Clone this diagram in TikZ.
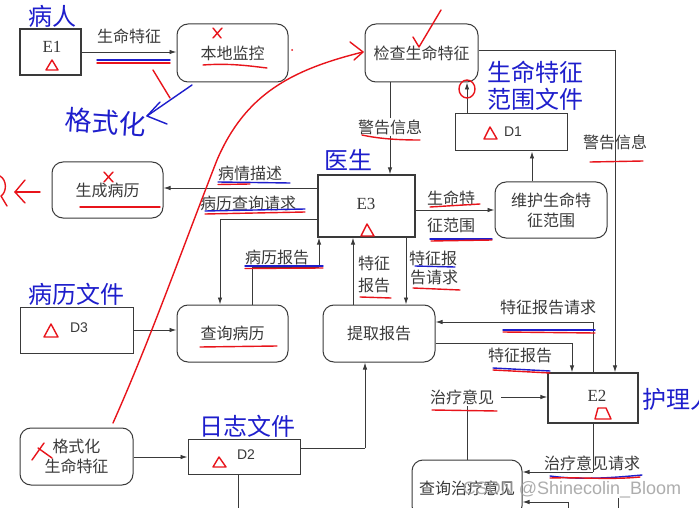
\documentclass[tikz,border=0pt]{standalone}
\usepackage{fontspec}
\setmainfont{Liberation Serif}
\newfontfamily\cjk{Noto Sans CJK SC}
\newfontfamily\sansf{Liberation Sans}
\usetikzlibrary{arrows.meta}
\definecolor{ink}{HTML}{3A3A3A}
\definecolor{hred}{HTML}{E8141B}
\definecolor{hblue}{HTML}{1E1ECC}
\tikzset{
  proc/.style={draw=ink, line width=1pt, rounded corners=11pt, inner sep=0pt,
    font=\cjk\fontsize{16}{20}\selectfont, text=ink, align=center},
  ent/.style={draw=ink, line width=1.3pt, inner sep=0pt},
  store/.style={draw=ink, line width=1pt, inner sep=0pt},
  etxt/.style={font=\fontsize{17}{17}\selectfont, text=ink, inner sep=0pt},
  dtxt/.style={font=\sansf\fontsize{14}{14}\selectfont, text=ink, inner sep=0pt},
  lbl/.style={font=\cjk\fontsize{16}{19}\selectfont, text=ink, inner sep=1pt},
  flow/.style={draw=ink, line width=0.9pt, -{Latex[length=7pt,width=4.5pt]}},
  wire/.style={draw=ink, line width=0.9pt},
  blab/.style={font=\cjk\fontsize{24}{27}\selectfont, text=hblue, inner sep=0pt, align=left},
  redl/.style={draw=hred, line width=1.4pt, line cap=round, line join=round},
  bluel/.style={draw=hblue, line width=1.4pt, line cap=round, line join=round},
  rtri/.style={draw=hred, line width=1.4pt, line join=round},
}
\begin{document}
\begin{tikzpicture}[x=1pt,y=-1pt]
\useasboundingbox (0,0) rectangle (699,508);
\fill[white] (0,0) rectangle (699,508);

% ---------- nodes ----------
\node[ent, minimum width=61pt, minimum height=46pt] (e1) at (50.5,52) {};
\node[etxt] (e1t) at (52,47) {E1};
\node[proc, minimum width=111pt, minimum height=58pt] (bd) at (232.5,53) {本地监控};
\node[proc, minimum width=113pt, minimum height=58pt] (jc) at (421.5,53) {检查生命特征};
\node[store, minimum width=112pt, minimum height=37pt] (d1) at (511,132.5) {};
\node[dtxt] (d1t) at (513,132) {D1};
\node[proc, minimum width=111pt, minimum height=56pt] (sc) at (107.5,190) {生成病历};
\node[ent, minimum width=97pt, minimum height=62pt] (e3) at (366.5,206) {};
\node[etxt] (e3t) at (366,204) {E3};
\node[proc, minimum width=112pt, minimum height=56pt] (wh) at (551,210) {维护生命特\\征范围};
\node[store, minimum width=113pt, minimum height=46pt] (d3) at (76.5,330) {};
\node[dtxt] (d3t) at (79,328) {D3};
\node[proc, minimum width=111pt, minimum height=57pt] (cx) at (232.5,333.5) {查询病历};
\node[proc, minimum width=112pt, minimum height=57pt] (tq) at (379,333.5) {提取报告};
\node[ent, minimum width=90pt, minimum height=50pt] (e2) at (593,398) {};
\node[etxt] (e2t) at (597,396) {E2};
\node[proc, minimum width=113pt, minimum height=57pt] (gs) at (76.5,456.5) {格式化\\生命特征};
\node[store, minimum width=112pt, minimum height=35pt] (d2) at (244,456.5) {};
\node[dtxt] (d2t) at (246,455) {D2};
\node[proc, minimum width=110pt, minimum height=57pt] (cz) at (467,488.5) {查询治疗意见};

% ---------- flow labels ----------
\node[lbl] (l1) at (129,36) {生命特征};
\node[lbl, fill=white] (l2) at (390,127) {警告信息};
\node[lbl] (l3) at (615,142) {警告信息};
\node[lbl] (l4) at (250,173) {病情描述};
\node[lbl] (l5) at (248,203) {病历查询请求};
\node[lbl] (l6) at (277,257) {病历报告};
\node[lbl] (l7a) at (451,198) {生命特};
\node[lbl] (l7b) at (451,225) {征范围};
\node[lbl] (l8a) at (374,263) {特征};
\node[lbl] (l8b) at (374,285) {报告};
\node[lbl] (l9a) at (433,258) {特征报};
\node[lbl] (l9b) at (434,277) {告请求};
\node[lbl] (l10) at (548,307) {特征报告请求};
\node[lbl] (l11) at (520,355) {特征报告};
\node[lbl] (zl) at (462,397) {治疗意见};
\node[lbl] (l12) at (592,463) {治疗意见请求};

% ---------- bend coordinates ----------
\coordinate (w1) at (615,50);
\coordinate (w2) at (220,219);
\coordinate (w3) at (252,267);
\coordinate (w4) at (319,267);
\coordinate (w5) at (593,322);
\coordinate (w6) at (572,343);
\coordinate (w7) at (593,472);
\coordinate (w8) at (365,448);
\coordinate (b1) at (568,502);
\coordinate (b1e) at (568,512);
\coordinate (b2) at (618,498);
\coordinate (b2e) at (618,512);
\coordinate (b3e) at (238,512);

% ---------- connectors ----------
\draw[flow] (e1.east |- 0,52) -- (bd.west |- 0,52);
\draw[wire] (jc.east |- w1) -- (w1);
\draw[flow] (w1) -- (w1 |- e2.north);
\draw[wire] (jc.south -| l2) -- (l2.north);
\draw[flow] (l2.south) -- (l2 |- e3.north);
\draw[flow] (d1.north -| 467,0) -- (jc.south -| 467,0);
\draw[flow] (wh.north -| 532,0) -- (d1.south -| 532,0);
\draw[flow] (e3.west |- 0,188) -- (sc.east |- 0,188);
\draw[wire] (e3.west |- w2) -- (w2);
\draw[flow] (w2) -- (w2 |- cx.north);
\draw[wire] (cx.north -| w3) -- (w3) -- (w4);
\draw[flow] (w4) -- (w4 |- e3.south);
\draw[flow] (e3.east |- 0,210) -- (wh.west |- 0,210);
\draw[flow] (tq.north -| 353,0) -- (e3.south -| 353,0);
\draw[flow] (e3.south -| 406,0) -- (tq.north -| 406,0);
\draw[flow] (d3.east |- 0,330) -- (cx.west |- 0,330);
\draw[wire] (e2.north -| w5) -- (w5);
\draw[flow] (w5) -- (w5 -| tq.east);
\draw[wire] (tq.east |- w6) -- (w6);
\draw[flow] (w6) -- (w6 |- e2.north);
\draw[wire] (cz.north -| 467,0) -- (zl.south -| 467,0);
\draw[flow] (zl.east |- 0,397) ++(6,0) -- (e2.west |- 0,397);
\draw[wire] (e2.south -| w7) -- (w7);
\draw[flow] (w7) -- (w7 -| cz.east);
\draw[flow] (gs.east |- 0,457) -- (d2.west |- 0,457);
\draw[wire] (d2.east |- w8) -- (w8);
\draw[flow] (w8) -- (w8 |- tq.south);
\draw[wire] (d2.south -| b3e) -- (b3e);
\draw[wire] (b1e) -- (b1);
\draw[flow] (b1) -- (b1 -| cz.east);
\draw[wire] (b2) -- (b2e);

% ---------- blue typed labels ----------
\node[blab] (t1) at (52,16) {病人};
\node[blab, anchor=north west] (t2) at (487,61) {生命特征\\范围文件};
\node[blab] (t3) at (348,160) {医生};
\node[blab] (t4) at (76,294) {病历文件};
\node[blab] (t5) at (247,426) {日志文件};
\node[blab, anchor=west] (t6) at (642,399) {护理人};

% ---------- handwriting (blue) ----------
\node[font=\cjk\fontsize{27}{27}\selectfont, text=hblue, rotate=-4, inner sep=0pt] (hw) at (106,122) {格式化};
\draw[bluel] (192,85) -- (147,116) -- (167,124);
\draw[bluel] (160,102) -- (147,116);

% ---------- red annotations ----------
% triangles
\draw[rtri] (46,70) -- (52,60) -- (58,70) -- cycle;
\draw[rtri] (484,139) -- (490,127) -- (497,139) -- cycle;
\draw[rtri] (361,236) -- (367,224) -- (374,236) -- cycle;
\draw[rtri] (44,337) -- (51,324) -- (58,337) -- cycle;
\draw[rtri] (213,467) -- (219,457) -- (226,467) -- cycle;
\draw[rtri] (595,419) -- (598,408) -- (606,408) -- (611,419) -- cycle;
% crosses
\draw[redl] (213,28) -- (221,38); \draw[redl] (222,28) -- (213,38);
\draw[redl] (104,172) -- (113,182); \draw[redl] (113,172) -- (104,182);
\draw[redl] (32,460) -- (44,443); \draw[redl] (38,448) -- (52,458);
% check mark
\draw[redl] (413,37) -- (419,47) -- (441,10);
% circle
\draw[redl] (467,89) ellipse (8pt and 9pt);
% big curve with arrow
\draw[redl] (113,423) .. controls (150,340) and (180,255) .. (217,160)
  .. controls (245,95) and (290,70) .. (363,52);
\draw[redl] (350,42) -- (363,52) -- (354,60);
\fill[hred] (292,50) circle (1pt);
% left arrow
\draw[redl] (40,192) -- (15,192);
\draw[redl] (25,180) -- (15,192) -- (25,203);
\draw[redl] (0,176) .. controls (7,180) and (7,192) .. (1,196) -- (7,206);
% short red stroke
\draw[redl] (153,70) -- (170,98);
% underlines
\draw[bluel] (97,60) -- (170,60);
\draw[redl] (97,63) -- (170,63);
\draw[redl] (203,65) .. controls (230,63) and (250,66) .. (267,68);
\draw[redl] (362,135) .. controls (380,139) and (400,140) .. (420,140);
\draw[redl] (590,162) -- (643,161);
\draw[redl] (80,207) -- (160,207);
\draw[bluel] (218,182) -- (290,183);
\draw[redl] (218,184.5) -- (250,184);
\draw[bluel] (205,211) -- (305,209);
\draw[redl] (205,214) -- (305,212);
\draw[bluel] (245,266) -- (323,266);
\draw[redl] (245,268.5) -- (323,268);
\draw[redl] (200,347) -- (277,346);
\draw[redl] (430,207) -- (480,204);
\draw[bluel] (430,239) -- (492,239);
\draw[redl] (431,241) -- (492,240);
\draw[bluel] (415,266) -- (455,267);
\draw[redl] (413,288) -- (460,290);
\draw[redl] (360,297) -- (391,298);
\draw[bluel] (503,330) -- (595,330);
\draw[redl] (503,332) -- (595,333);
\draw[bluel] (493,368) -- (550,371);
\draw[redl] (493,370) -- (550,373);
\draw[redl] (432,410) -- (497,411);
\draw[bluel] (550,476) .. controls (580,480) and (610,478) .. (642,475);
\draw[redl] (550,478) .. controls (580,477) and (610,480) .. (640,477);

% ---------- watermark ----------
\node[font=\sansf\fontsize{18}{18}\selectfont, text=gray!75, opacity=0.85, inner sep=0pt] (wm) at (572,490) {CSDN @Shinecolin\_Bloom};
\end{tikzpicture}
\end{document}
